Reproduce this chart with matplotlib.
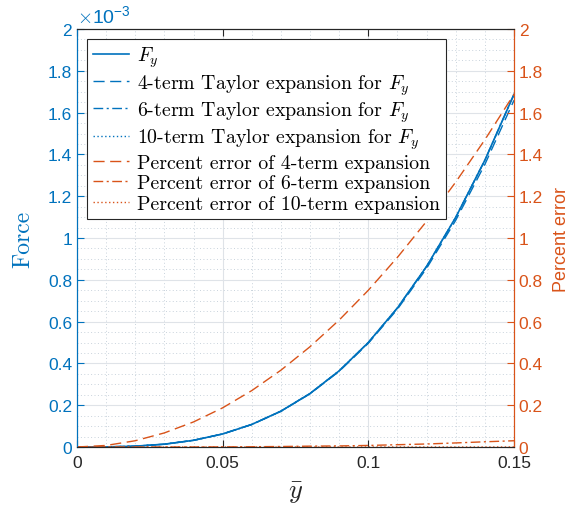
import numpy as np
import matplotlib.pyplot as plt
from matplotlib.ticker import MultipleLocator

# values (Force in units of 1e-3, error in percent)
ybar = [0.0, 0.01, 0.02, 0.03, 0.04, 0.05, 0.06, 0.07, 0.08, 0.09, 0.10, 0.11, 0.12, 0.13, 0.14, 0.15]
force = [0.0, 0.0005, 0.004, 0.0135, 0.032, 0.0625, 0.108, 0.1715, 0.256, 0.3645,
         0.500, 0.6655, 0.864, 1.0985, 1.372, 1.6875]
taylor4 = [0.0, 0.0005, 0.004, 0.0135, 0.032, 0.0624, 0.1077, 0.1709, 0.2548, 0.3623,
           0.4963, 0.6595, 0.8547, 1.0846, 1.3518, 1.6590]
taylor6 = [0.0, 0.0005, 0.004, 0.0135, 0.032, 0.0625, 0.108, 0.1715, 0.256, 0.3645,
           0.49998, 0.66545, 0.86390, 1.09833, 1.37174, 1.68700]
taylor10 = [0.0, 0.0005, 0.004, 0.0135, 0.032, 0.0625, 0.108, 0.1715, 0.256, 0.3645,
            0.500, 0.6655, 0.864, 1.0985, 1.372, 1.6875]
err4 = [0.0, 0.0075, 0.030, 0.0675, 0.120, 0.1875, 0.270, 0.3675, 0.480, 0.6075,
        0.750, 0.9075, 1.080, 1.2675, 1.470, 1.6875]
err6 = [0.0, 0.0, 0.0, 0.0001, 0.0002, 0.0006, 0.0013, 0.0024, 0.0041, 0.0052,
        0.0075, 0.011, 0.0145, 0.0195, 0.025, 0.030]
err10 = [0.0, 0.0, 0.0, 0.0, 0.0, 0.0, 0.0, 0.0, 0.0, 0.0,
         0.0, 0.0, 0.0, 0.0, 0.0, 0.0001]

blue = '#0072BD'
orange = '#D95319'
dark = '#262626'

plt.rcParams['mathtext.fontset'] = 'cm'
plt.rcParams['font.family'] = ['Liberation Sans', 'DejaVu Sans']
plt.rcParams['axes.unicode_minus'] = False

fig = plt.figure(figsize=(5.69, 5.06), dpi=100)
ax = fig.add_axes([0.1353, 0.1146, 0.7680, 0.8261])
ax2 = ax.twinx()

dash = (0, (8, 4))
dashdot = (0, (7, 2.5, 1.5, 2.5))
dot = (0, (1, 1.8))

l1, = ax.plot(ybar, force, color=blue, lw=1.2, label='$F_y$')
l2, = ax.plot(ybar, taylor4, color=blue, lw=1.0, ls=dash, label='4-term Taylor expansion for $F_y$')
l3, = ax.plot(ybar, taylor6, color=blue, lw=1.0, ls=dashdot, label='6-term Taylor expansion for $F_y$')
l4, = ax.plot(ybar, taylor10, color=blue, lw=1.0, ls=dot, label='10-term Taylor expansion for $F_y$')
l5, = ax2.plot(ybar, err4, color=orange, lw=1.0, ls=dash, label='Percent error of 4-term expansion')
l6, = ax2.plot(ybar, err6, color=orange, lw=1.0, ls=dashdot, label='Percent error of 6-term expansion')
l7, = ax2.plot(ybar, err10, color=orange, lw=1.0, ls=dot, label='Percent error of 10-term expansion')

ax.set_xlim(0, 0.15)
ax.set_ylim(0, 2)
ax2.set_ylim(0, 2)
ax.xaxis.set_minor_locator(MultipleLocator(0.01))
ax.yaxis.set_minor_locator(MultipleLocator(0.05))
ax2.yaxis.set_minor_locator(MultipleLocator(0.05))

ax.set_xticks([0, 0.05, 0.1, 0.15])
ax.set_xticklabels(['0', '0.05', '0.1', '0.15'])
yt = [0, 0.2, 0.4, 0.6, 0.8, 1, 1.2, 1.4, 1.6, 1.8, 2]
ylabs = ['0', '0.2', '0.4', '0.6', '0.8', '1', '1.2', '1.4', '1.6', '1.8', '2']
ax.set_yticks(yt)
ax.set_yticklabels(ylabs)
ax2.set_yticks(yt)
ax2.set_yticklabels(ylabs)

ax.grid(True, which='major', color='#dfe3e8', lw=0.8)
ax.grid(True, which='minor', color='#c9d3dc', lw=0.7, ls=(0, (1, 2.5)))
ax.set_axisbelow(True)

ax.tick_params(axis='x', which='both', direction='in', top=True, colors=dark, labelsize=12.5, pad=6)
ax.tick_params(axis='x', which='major', length=5)
ax.tick_params(axis='x', which='minor', length=0)
ax.tick_params(axis='y', which='major', direction='in', colors=blue, labelsize=12.5, length=5)
ax.tick_params(axis='y', which='minor', length=0)
ax2.tick_params(axis='y', which='major', direction='in', colors=orange, labelsize=12.5, length=5)
ax2.tick_params(axis='y', which='minor', length=0)

for a in (ax, ax2):
    a.spines['top'].set_color(dark)
    a.spines['bottom'].set_color(dark)
    a.spines['left'].set_color(blue)
    a.spines['right'].set_color(orange)

ax.set_xlabel(r'$\bar{y}$', fontsize=19, color=dark, labelpad=7)
ax.set_ylabel('Force', fontsize=17, color=blue, family='cmr10', labelpad=10)
ax2.set_ylabel('Percent error', fontsize=13, color=orange, labelpad=7)
ax.text(0.0, 1.008, r'$\times\mathregular{10^{-3}}$', transform=ax.transAxes, color=blue,
        fontsize=14, ha='left', va='bottom')

leg = ax2.legend(handles=[l1, l2, l3, l4, l5, l6, l7], loc='upper left',
                 bbox_to_anchor=(0.0, 1.0), prop={'family': 'cmr10', 'size': 14.3},
                 handlelength=1.8, handletextpad=0.4, labelspacing=0.13,
                 borderpad=0.3, borderaxespad=0.5, fancybox=False, framealpha=1, edgecolor=dark)
leg.get_frame().set_linewidth(0.8)

fig.savefig('out.png', dpi=100)
